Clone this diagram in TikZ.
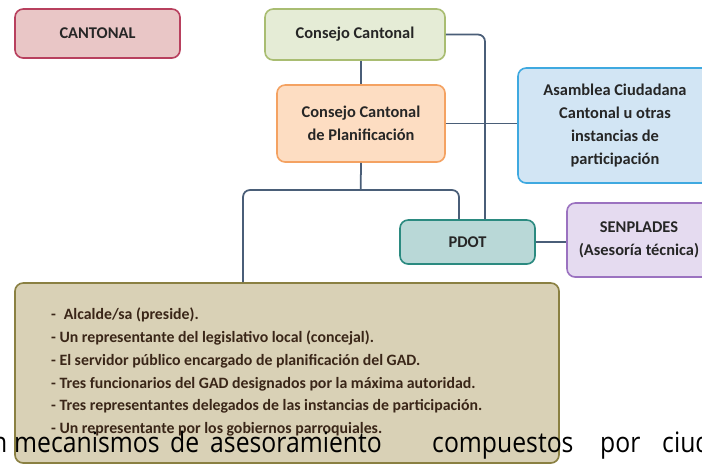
\documentclass[tikz,border=0pt]{standalone}
\usepackage{fontspec}
\setmainfont{Carlito}
\newfontfamily\strayfont[FakeStretch=0.88]{Open Sans}
\usetikzlibrary{positioning}
\definecolor{linkc}{HTML}{4A5E78}
\definecolor{cantfill}{HTML}{E9C6C6}
\definecolor{cantdraw}{HTML}{B8405E}
\definecolor{consfill}{HTML}{E5ECD6}
\definecolor{consdraw}{HTML}{A9BD72}
\definecolor{planfill}{HTML}{FDDDC2}
\definecolor{plandraw}{HTML}{F4A262}
\definecolor{asamfill}{HTML}{D2E5F4}
\definecolor{asamdraw}{HTML}{3FA9E0}
\definecolor{pdotfill}{HTML}{B9D8D7}
\definecolor{pdotdraw}{HTML}{2B8A80}
\definecolor{senpfill}{HTML}{E5DBF0}
\definecolor{senpdraw}{HTML}{9B72C0}
\definecolor{membfill}{HTML}{D9D1B6}
\definecolor{membdraw}{HTML}{8A8042}
\definecolor{membtext}{HTML}{3A2618}

\begin{document}
\begin{tikzpicture}[x=0.03cm,y=-0.03cm,
    box/.style={rounded corners=7pt,line width=1.4pt,align=center,
      font=\fontsize{14}{19.5}\selectfont\bfseries,text=black!85},
    stray/.style={anchor=base west,inner sep=0pt,text=black,
      font=\strayfont\fontsize{24}{28}\selectfont},
    link/.style={draw=linkc,line width=1.5pt,rounded corners=6pt}]
    \useasboundingbox (0,0) rectangle (702,465);
    \node[box,fill=cantfill,draw=cantdraw,minimum width=4.95cm,minimum height=1.47cm]
      (cantonal) at (97.5,33.5) {CANTONAL};
    \node[box,fill=consfill,draw=consdraw,minimum width=5.4cm,minimum height=1.53cm]
      (consejo) at (355,34.5) {Consejo Cantonal};
    \node[box,fill=planfill,draw=plandraw,minimum width=5.04cm,minimum height=2.31cm]
      (plan) at (361,123.5) {Consejo Cantonal\\de Planificación};
    \node[box,fill=asamfill,draw=asamdraw,minimum width=5.82cm,minimum height=3.45cm]
      (asamblea) at (615,125.5) {Asamblea Ciudadana\\Cantonal u otras\\instancias de\\participación};
    \node[box,fill=pdotfill,draw=pdotdraw,minimum width=4.05cm,minimum height=1.32cm]
      (pdot) at (467.5,242) {PDOT};
    \node[box,fill=senpfill,draw=senpdraw,minimum width=4.32cm,minimum height=2.22cm]
      (senplades) at (639,240) {SENPLADES\\(Asesoría técnica)};
    \node[box,fill=membfill,draw=membdraw,minimum width=16.32cm,minimum height=5.4cm]
      (members) at (287,373) {};
    \node[anchor=north west,align=left,text=membtext,
      font=\fontsize{13.5}{19.4}\selectfont\bfseries] (list) at (47,304)
      {-\enspace Alcalde/sa (preside).\\
       - Un representante del legislativo local (concejal).\\
       - El servidor público encargado de planificación del GAD.\\
       - Tres funcionarios del GAD designados por la máxima autoridad.\\
       - Tres representantes delegados de las instancias de participación.\\
       - Un representante por los gobiernos parroquiales.};
    \foreach \wx/\word [count=\i] in {-8/n,14/mecanismos,170/de,210/asesoramiento,
      432/compuestos,600/por,662/ciud}
      \node[stray] (word\i) at (\wx,452) {\word};
    \coordinate (split) at (360.7,190);
    \coordinate (leftx) at (243,0);
    \coordinate (midx) at (459,0);
    \coordinate (rightx) at (485,0);
    \draw[link] (consejo.south -| plan.north) -- (plan.north);
    \draw[link] (consejo.east) -| (rightx |- pdot.north);
    \draw[link] (plan.east) -- (asamblea.west |- plan.east);
    \draw[link] (plan.south) -- (split);
    \draw[link] (leftx |- members.north) |- (split) -| (midx |- pdot.north);
    \draw[link] (pdot.east) -- (senplades.west |- pdot.east);
\end{tikzpicture}
\end{document}
